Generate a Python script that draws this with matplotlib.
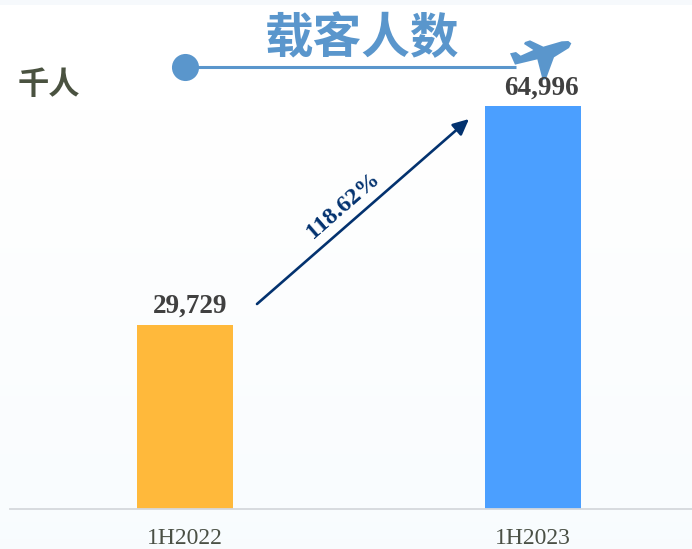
import matplotlib
matplotlib.use('Agg')
import matplotlib.pyplot as plt
import numpy as np
from matplotlib.patches import Polygon

categories = ['1H2022', '1H2023']
passengers = [29729, 64996]
value_labels = ['29,729', '64,996']
label_shift = [3.6, 6.4]
bar_colors = ['#FFB93B', '#4B9FFF']
growth_label = '118.62%'
title = '载客人数'
unit = '千人'

W, H = 692, 549
fig = plt.figure(figsize=(W / 100, H / 100), dpi=100)

# overlay in pixel coords for the decorations
deco = fig.add_axes([0, 0, 1, 1], zorder=0)
deco.set_xlim(0, W)
deco.set_ylim(H, 0)
deco.axis('off')

# pale background fade
fade = np.linspace(0, 1, 256).reshape(-1, 1)
fade = np.clip((fade - 0.2) / 0.8, 0, 1)
bg = np.ones((256, 1, 3))
bg[:, :, 0] -= fade * 0.025
bg[:, :, 1] -= fade * 0.012
bg[:, :, 2] -= fade * 0.004
deco.imshow(bg, extent=[0, W, H, 0], aspect='auto', zorder=0)
deco.set_xlim(0, W)
deco.set_ylim(H, 0)
deco.fill_between([0, W], 0, 5, color='#F6F9FC', lw=0, zorder=1)

# chart axes: baseline at y=509, starts at x=10
ax = fig.add_axes([10 / W, (H - 509) / H, (W - 10) / W, 509 / H], zorder=3)
ax.patch.set_alpha(0)
per_unit = 348
ax.set_xlim((10 - 185) / per_unit, (W - 185) / per_unit)
ax.set_ylim(0, 509 / 0.0062)
x = np.arange(len(categories))
ax.bar(x, passengers, width=96 / per_unit, color=bar_colors)
for s in ['top', 'left', 'right']:
    ax.spines[s].set_visible(False)
ax.spines['bottom'].set_color('#D5D8DC')
ax.spines['bottom'].set_linewidth(1.3)
ax.set_yticks([])
ax.set_xticks(x)
ax.set_xticklabels(categories, family='Liberation Serif', fontsize=17, color='#4A5045')
ax.tick_params(axis='x', length=0, pad=14)

for xi, v, lab, dx in zip(x, passengers, value_labels, label_shift):
    ax.annotate(lab, (xi, v), xytext=(dx, 4), textcoords='offset points',
                ha='center', va='bottom', family='Liberation Serif', fontweight='bold',
                fontsize=19.5, color='#404040')

top = fig.add_axes([0, 0, 1, 1], zorder=2)
top.set_xlim(0, W)
top.set_ylim(H, 0)
top.axis('off')

top.text(362, 38.5, title, family='Noto Sans CJK SC', fontweight='bold', fontsize=35,
         color='#5A96CC', ha='center', va='center')
top.text(49, 85, unit, family='Noto Sans CJK SC', fontweight='bold', fontsize=22.5,
         color='#4A5240', ha='center', va='center')

top.plot([185, 516], [67, 67], color='#5A96CC', lw=2.2, solid_capstyle='butt')
top.plot([185], [67], 'o', color='#5A96CC', ms=19.5, mew=0)

plane = np.array([(214, 40), (205, 33), (185, 34), (130, 50), (90, 31), (75, 36), (72, 42),
                  (100, 60), (62, 77), (48, 66), (30, 70), (45, 104), (112, 88), (128, 150),
                  (138, 147), (162, 82), (207, 54)], dtype=float) / 3 + [500, 30]
top.add_patch(Polygon(plane, closed=True, fc='#5A96CC', ec='none', zorder=1))

top.annotate('', xy=(469, 119), xytext=(257, 304),
             arrowprops=dict(arrowstyle='-|>,head_length=0.95,head_width=0.45', color='#03326F',
                             lw=1.9, shrinkA=0, shrinkB=0))
top.text(343, 205, growth_label, family='Liberation Serif', fontweight='bold', fontsize=17.5,
         color='#03326F', rotation=41, rotation_mode='anchor', ha='center', va='center')

fig.savefig('out.png', dpi=100)
